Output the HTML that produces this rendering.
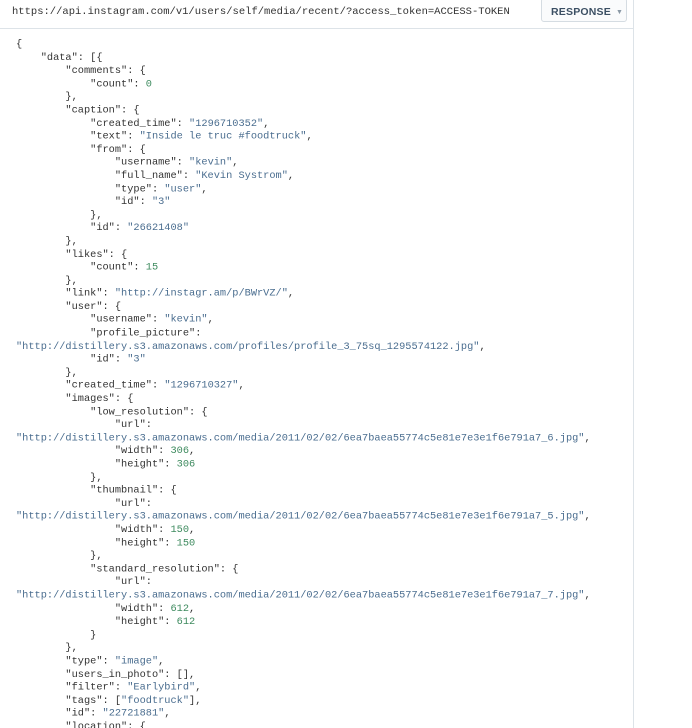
<!DOCTYPE html>
<html><head><meta charset="utf-8"><style>
html,body{margin:0;padding:0;background:#fff;width:692px;height:728px;overflow:hidden;position:relative}
.hdr{position:absolute;left:0;top:0;width:633px;height:28px;border-bottom:1px solid #dde3e8}
.url{position:absolute;left:12px;top:6px;font:10.5px "Liberation Mono",monospace;color:#333;white-space:pre}
.btn{position:absolute;left:541px;top:-2px;width:86px;height:24px;border:1px solid #d5dce2;border-radius:3px;background:#fafbfc;font:bold 10.5px "Liberation Sans",sans-serif;color:#3b4f63;line-height:26px;box-sizing:border-box;padding-left:9px;letter-spacing:.2px}
.btn span{font-size:7px;color:#8a98a5;margin-left:5px;vertical-align:1px}
.vline{position:absolute;left:633px;top:0;width:1px;height:728px;background:#dde3e8}
pre{position:absolute;left:16px;top:39px;margin:0;font:10.3px/13.6px "Liberation Mono",monospace;color:#333;transform:scaleY(0.965);transform-origin:0 0}
.s{color:#4a6d8f}.n{color:#3d8a5e}
</style></head><body>
<div class="hdr"><div class="url">https://api.instagram.com/v1/users/self/media/recent/?access_token=ACCESS-TOKEN</div>
<div class="btn">RESPONSE<span>▼</span></div></div>
<div class="vline"></div>
<pre>{
    "data": [{
        "comments": {
            "count": <span class="n">0</span>
        },
        "caption": {
            "created_time": <span class="s">"1296710352"</span>,
            "text": <span class="s">"Inside le truc #foodtruck"</span>,
            "from": {
                "username": <span class="s">"kevin"</span>,
                "full_name": <span class="s">"Kevin Systrom"</span>,
                "type": <span class="s">"user"</span>,
                "id": <span class="s">"3"</span>
            },
            "id": <span class="s">"26621408"</span>
        },
        "likes": {
            "count": <span class="n">15</span>
        },
        "link": <span class="s">"http://instagr.am/p/BWrVZ/"</span>,
        "user": {
            "username": <span class="s">"kevin"</span>,
            "profile_picture":
<span class="s">"http://distillery.s3.amazonaws.com/profiles/profile_3_75sq_1295574122.jpg"</span>,
            "id": <span class="s">"3"</span>
        },
        "created_time": <span class="s">"1296710327"</span>,
        "images": {
            "low_resolution": {
                "url":
<span class="s">"http://distillery.s3.amazonaws.com/media/2011/02/02/6ea7baea55774c5e81e7e3e1f6e791a7_6.jpg"</span>,
                "width": <span class="n">306</span>,
                "height": <span class="n">306</span>
            },
            "thumbnail": {
                "url":
<span class="s">"http://distillery.s3.amazonaws.com/media/2011/02/02/6ea7baea55774c5e81e7e3e1f6e791a7_5.jpg"</span>,
                "width": <span class="n">150</span>,
                "height": <span class="n">150</span>
            },
            "standard_resolution": {
                "url":
<span class="s">"http://distillery.s3.amazonaws.com/media/2011/02/02/6ea7baea55774c5e81e7e3e1f6e791a7_7.jpg"</span>,
                "width": <span class="n">612</span>,
                "height": <span class="n">612</span>
            }
        },
        "type": <span class="s">"image"</span>,
        "users_in_photo": [],
        "filter": <span class="s">"Earlybird"</span>,
        "tags": [<span class="s">"foodtruck"</span>],
        "id": <span class="s">"22721881"</span>,
        "location": {
</pre>
</body></html>
